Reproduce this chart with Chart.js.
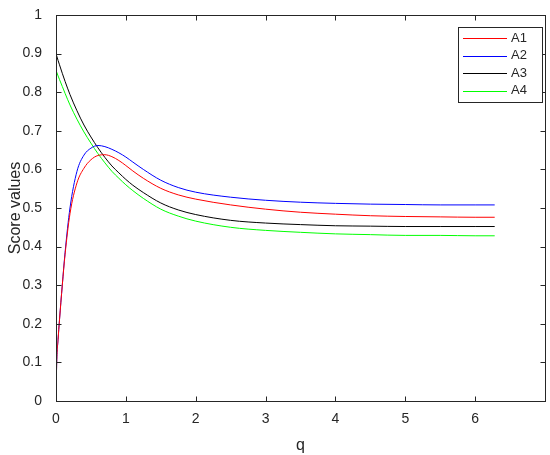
<!DOCTYPE html>
<html>
<head>
<meta charset="utf-8">
<script src="https://cdn.jsdelivr.net/npm/chart.js@4"></script>
<style>
  html, body { margin: 0; padding: 0; background: #fff; }
  #wrap { width: 550px; height: 455px; }
</style>
</head>
<body>
<div id="wrap"><canvas id="myChart" width="550" height="455"></canvas></div>
<script>
// values
let qValues = [0, 0.01, 0.03, 0.05, 0.09, 0.13, 0.2, 0.3, 0.4, 0.5, 0.6, 0.7, 0.8, 0.9, 1.0, 1.1, 1.25, 1.5, 1.75, 2.0, 2.5, 3.0, 3.5, 4.0, 4.5, 5.0, 5.5, 6.0, 6.28];
let a1 = [0, 0.1, 0.16, 0.21, 0.3, 0.38, 0.485, 0.565, 0.603, 0.625, 0.636, 0.638, 0.633, 0.623, 0.61, 0.596, 0.577, 0.551, 0.534, 0.523, 0.508, 0.497, 0.489, 0.484, 0.48, 0.478, 0.477, 0.476, 0.476];
let a2 = [0, 0.1, 0.16, 0.21, 0.3, 0.385, 0.5, 0.595, 0.637, 0.655, 0.662, 0.659, 0.652, 0.643, 0.632, 0.619, 0.6, 0.572, 0.553, 0.541, 0.528, 0.52, 0.515, 0.512, 0.51, 0.509, 0.508, 0.508, 0.508];
let a3 = [0.9, 0.894, 0.882, 0.871, 0.849, 0.828, 0.794, 0.752, 0.715, 0.684, 0.656, 0.631, 0.609, 0.591, 0.574, 0.559, 0.54, 0.513, 0.495, 0.483, 0.468, 0.461, 0.457, 0.454, 0.453, 0.452, 0.452, 0.452, 0.452];
let a4 = [0.857, 0.852, 0.842, 0.833, 0.815, 0.797, 0.767, 0.73, 0.697, 0.668, 0.641, 0.617, 0.595, 0.577, 0.56, 0.545, 0.525, 0.497, 0.479, 0.466, 0.45, 0.442, 0.437, 0.433, 0.431, 0.429, 0.429, 0.428, 0.428];
let seriesNames = ["A1", "A2", "A3", "A4"];
let seriesColors = ["#ff0000", "#0000ff", "#000000", "#00ff00"];
let xTicks = [0, 1, 2, 3, 4, 5, 6, 7];
let yTicks = [0, 0.1, 0.2, 0.3, 0.4, 0.5, 0.6, 0.7, 0.8, 0.9, 1];

let axisColor = "#262626";
let fontFamily = "'Liberation Sans', Arial, sans-serif";

function toPoints(vals) {
    return qValues.map((q, i) => ({ x: q, y: vals[i] }));
}

let datasets = [a1, a2, a3, a4].map((vals, i) => ({
    label: seriesNames[i],
    data: toPoints(vals),
    borderColor: seriesColors[i],
    backgroundColor: seriesColors[i],
    borderWidth: 1,
    pointRadius: 0,
    showLine: true,
    cubicInterpolationMode: "monotone",
    fill: false
}));

// box, inward ticks and legend like the MATLAB figure
let boxPlugin = {
    id: "box",
    afterDraw(chart) {
        let c = chart.ctx;
        let a = chart.chartArea;
        let xs = chart.scales.x;
        let ys = chart.scales.y;
        let L = Math.round(a.left) + 0.5, R = Math.round(a.right) + 0.5;
        let T = Math.round(a.top) + 0.5, B = Math.round(a.bottom) + 0.5;
        c.save();
        c.strokeStyle = axisColor;
        c.lineWidth = 1;
        c.strokeRect(L, T, R - L, B - T);

        // inward tick marks
        xTicks.forEach(t => {
            let px = Math.round(xs.getPixelForValue(t)) + 0.5;
            c.beginPath();
            c.moveTo(px, B); c.lineTo(px, B - 5);
            c.moveTo(px, T); c.lineTo(px, T + 5);
            c.stroke();
        });
        yTicks.forEach(t => {
            let py = Math.round(ys.getPixelForValue(t)) + 0.5;
            c.beginPath();
            c.moveTo(L, py); c.lineTo(L + 5, py);
            c.moveTo(R, py); c.lineTo(R - 5, py);
            c.stroke();
        });

        // legend
        let lx = 458, ly = 27, lw = 84, lh = 75;
        c.fillStyle = "#fff";
        c.fillRect(lx, ly, lw, lh);
        c.strokeStyle = axisColor;
        c.strokeRect(lx + 0.5, ly + 0.5, lw, lh);
        c.font = "13px " + fontFamily;
        c.textBaseline = "middle";
        seriesNames.forEach((name, i) => {
            let yy = ly + 11 + i * 17.5;
            c.strokeStyle = seriesColors[i];
            c.beginPath();
            c.moveTo(lx + 5, Math.round(yy) + 0.5);
            c.lineTo(lx + 49, Math.round(yy) + 0.5);
            c.stroke();
            c.fillStyle = axisColor;
            c.fillText(name, lx + 53, yy);
        });
        c.restore();
    }
};

let ctx = document.getElementById("myChart").getContext("2d");
let myChart = new Chart(ctx, {
    type: "scatter",
    data: { datasets: datasets },
    options: {
        responsive: false,
        animation: false,
        layout: { padding: { left: 6, right: 5, top: 15, bottom: 0 } },
        plugins: {
            legend: { display: false },
            tooltip: { enabled: false }
        },
        scales: {
            x: {
                type: "linear",
                min: 0,
                max: 7,
                afterBuildTicks: s => { s.ticks = xTicks.map(v => ({ value: v })); },
                afterFit: s => { s.height = 54; },
                grid: { display: false },
                border: { display: false },
                ticks: {
                    color: axisColor,
                    font: { family: fontFamily, size: 14 },
                    padding: 2,
                    maxRotation: 0,
                    callback: v => (v === 7 ? "" : v)
                },
                title: {
                    display: true,
                    text: "q",
                    color: axisColor,
                    font: { family: fontFamily, size: 16 },
                    padding: { top: 0, bottom: 0 }
                }
            },
            y: {
                min: 0,
                max: 1,
                afterBuildTicks: s => { s.ticks = yTicks.map(v => ({ value: v })); },
                afterFit: s => { s.width = 50; },
                grid: { display: false },
                border: { display: false },
                ticks: {
                    color: axisColor,
                    font: { family: fontFamily, size: 14 },
                    padding: 6,
                    callback: v => String(Math.round(v * 10) / 10)
                },
                title: {
                    display: true,
                    text: "Score values",
                    color: axisColor,
                    font: { family: fontFamily, size: 16 },
                    padding: { top: 0, bottom: 2 }
                }
            }
        }
    },
    plugins: [boxPlugin]
});
</script>
</body>
</html>
